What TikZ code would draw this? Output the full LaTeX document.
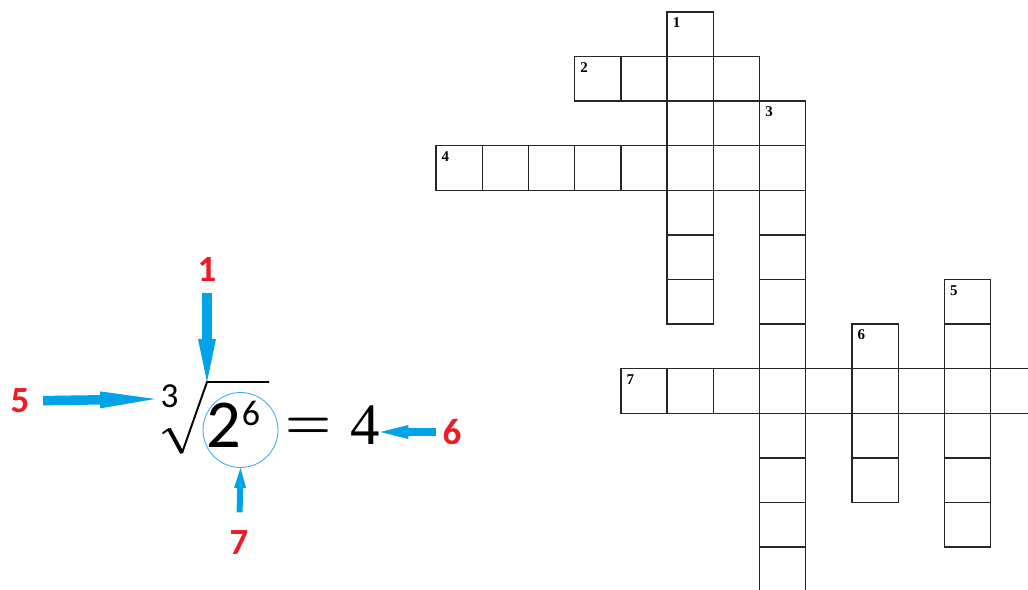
\documentclass[tikz,border=0pt]{standalone}
\usepackage{fontspec}
\newfontfamily\numfont{Liberation Serif}
\newfontfamily\tagfont{Carlito}
\usetikzlibrary{arrows.meta, positioning}
\definecolor{cblue}{HTML}{00A2E8}
\definecolor{cring}{HTML}{3FAEE6}
\definecolor{cred}{HTML}{ED1C24}
\tikzset{
  every picture/.style={line width=0.8pt},
  cell/.style={draw=black!85, line width=0.8pt},
  num/.style={font=\numfont\bfseries\fontsize{8.5}{9}\selectfont, anchor=north west, inner sep=0pt, xshift=0.1cm, yshift=-0.1cm},
  tag/.style={font=\tagfont\bfseries\fontsize{21}{24}\selectfont, text=cred, inner sep=0pt},
  sym/.style={inner sep=0pt, font=\tagfont\fontsize{#1}{#1}\selectfont},
  pointer/.style n args={3}{draw=cblue, line width=#1, -{Triangle[length=#2, width=#3, line width=0pt]}},
}

\begin{document}
\begin{tikzpicture}[x=0.02cm, y=-0.02cm]
  \useasboundingbox (0,0) rectangle (1028,589);
  \clip (0,0) rectangle (1028,589);

  % the sum
  \draw[line width=1.1pt, line cap=round] (163,433) -- (169,429);
  \draw[line width=2.2pt] (169,429) -- (182,453);
  \draw[line width=1.1pt, line join=miter] (182,453) -- (207,382) -- (269,382);
  \node[sym=20] (i3) at (169.5,396) {3};
  \node[sym=39] (base) at (224,425) {2};
  \node[sym=20.5] (expo) at (251,413.5) {6};
  \node[inner sep=0pt, font=\bfseries\fontsize{30}{30}\selectfont] (eqs) at (309,428.5) {=};
  \node[inner sep=0pt, font=\numfont\fontsize{33.5}{34}\selectfont] (four) at (365,425) {4};
  \node[draw=cring, line width=0.5pt, circle, minimum size=1.5cm, inner sep=0pt] (ring) at (240.5,430) {};
  \coordinate (apex) at (207,382);
  \coordinate (lead) at (155,399);

  % the labels
  \node[tag] (l1) at (207,270) {1};
  \node[tag] (l5) at (20,401) {5};
  \node[tag] (l6) at (452,432) {6};
  \node[tag] (l7) at (239,543) {7};
  \draw[pointer={0.2cm}{0.86cm}{0.36cm}, shorten <=0.2cm] (l1) -- (apex);
  \draw[pointer={0.19cm}{1.1cm}{0.34cm}, shorten <=0.26cm] (l5) -- (lead);
  \draw[pointer={0.16cm}{0.56cm}{0.28cm}, shorten <=0.12cm] (l6) -- (four.east |- l6);
  \draw[pointer={0.12cm}{0.4cm}{0.24cm}, shorten <=0.36cm] (l7) -- (ring.south);

  % the crossword
  \begin{scope}[shift={(436,12)}, x=0.9246cm, y=-0.892cm]
    \foreach \n/\c/\r/\len in {2/3/1/4, 4/0/3/8, 7/4/8/9}
    { \foreach \i in {1,...,\len} \draw[cell] (\c+\i-1,\r) rectangle ++(1,1);
      \node[num] (n\n) at (\c,\r) {\n}; }
    \foreach \n/\c/\r/\len in {1/5/0/7, 3/7/2/11, 5/11/6/6, 6/9/7/4}
    { \foreach \i in {1,...,\len} \draw[cell] (\c,\r+\i-1) rectangle ++(1,1);
      \node[num] (n\n) at (\c,\r) {\n}; }
    \draw[cell] (6,2) rectangle ++(1,1);
  \end{scope}
\end{tikzpicture}
\end{document}
